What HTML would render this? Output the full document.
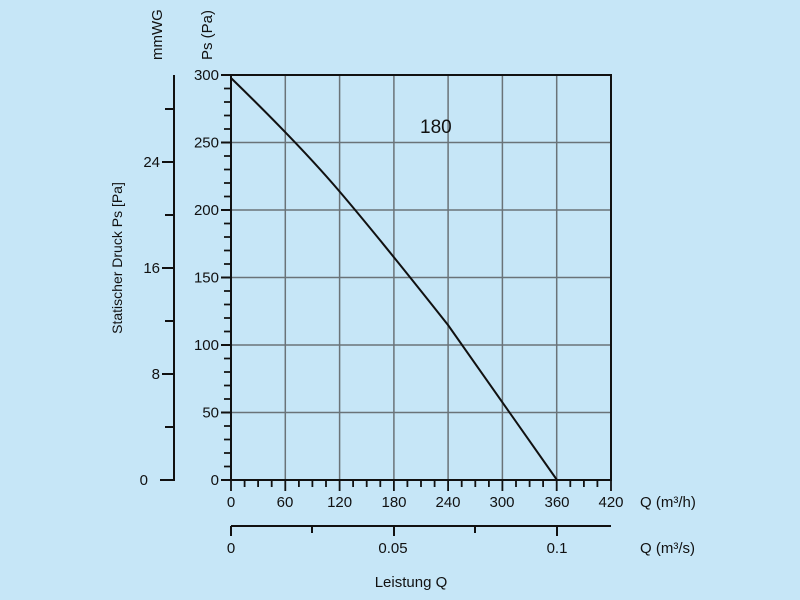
<!DOCTYPE html>
<html><head><style>
body{margin:0;background:#c6e6f7;}
svg{display:block;font-family:"Liberation Sans",sans-serif;}
</style></head><body>
<svg width="800" height="600" viewBox="0 0 800 600">
<rect width="800" height="600" fill="#c6e6f7"/>
<g stroke="#6a7378" stroke-width="1.5">
<line x1="285.3" y1="75" x2="285.3" y2="480"/><line x1="339.6" y1="75" x2="339.6" y2="480"/>
<line x1="393.9" y1="75" x2="393.9" y2="480"/><line x1="448.1" y1="75" x2="448.1" y2="480"/>
<line x1="502.4" y1="75" x2="502.4" y2="480"/><line x1="556.7" y1="75" x2="556.7" y2="480"/>
<line x1="231" y1="142.5" x2="611" y2="142.5"/><line x1="231" y1="210" x2="611" y2="210"/>
<line x1="231" y1="277.5" x2="611" y2="277.5"/><line x1="231" y1="345" x2="611" y2="345"/>
<line x1="231" y1="412.5" x2="611" y2="412.5"/>
</g>
<g stroke="#111" stroke-width="2" fill="none">
<rect x="231" y="75" width="380" height="405"/>
<path d="M231,78 Q300,145 340,192 T448,325 L557,480"/>
</g>
<g stroke="#111" stroke-width="2">
<line x1="221" y1="75" x2="231" y2="75"/><line x1="221" y1="142.5" x2="231" y2="142.5"/>
<line x1="221" y1="210" x2="231" y2="210"/><line x1="221" y1="277.5" x2="231" y2="277.5"/>
<line x1="221" y1="345" x2="231" y2="345"/><line x1="221" y1="412.5" x2="231" y2="412.5"/>
<line x1="221" y1="480" x2="231" y2="480"/>
<polyline points="160,480 174,480 174,75" fill="none"/>
<line x1="165" y1="109" x2="174" y2="109"/><line x1="162" y1="162" x2="174" y2="162"/>
<line x1="165" y1="215" x2="174" y2="215"/><line x1="162" y1="268" x2="174" y2="268"/>
<line x1="165" y1="321" x2="174" y2="321"/><line x1="162" y1="374" x2="174" y2="374"/>
<line x1="165" y1="427" x2="174" y2="427"/>
<line x1="231" y1="526" x2="611" y2="526"/>
<line x1="231" y1="526" x2="231" y2="536"/><line x1="312" y1="526" x2="312" y2="533"/>
<line x1="394" y1="526" x2="394" y2="536"/><line x1="475" y1="526" x2="475" y2="533"/>
<line x1="557" y1="526" x2="557" y2="536"/>
</g>
<g stroke="#111" stroke-width="1.8">
<path d="M224,88.5h7M224,102h7M224,115.5h7M224,129h7M224,156h7M224,169.5h7M224,183h7M224,196.5h7M224,223.5h7M224,237h7M224,250.5h7M224,264h7M224,291h7M224,304.5h7M224,318h7M224,331.5h7M224,358.5h7M224,372h7M224,385.5h7M224,399h7M224,426h7M224,439.5h7M224,453h7M224,466.5h7"/>
<path d="M231,480v11M244.6,480v7M258.1,480v7M271.7,480v7M285.3,480v11M298.9,480v7M312.4,480v7M326,480v7M339.6,480v11M353.1,480v7M366.7,480v7M380.3,480v7M393.9,480v11M407.4,480v7M421,480v7M434.6,480v7M448.1,480v11M461.7,480v7M475.3,480v7M488.9,480v7M502.4,480v11M516,480v7M529.6,480v7M543.1,480v7M556.7,480v11M570.3,480v7M583.9,480v7M597.4,480v7M611,480v11"/>
</g>
<g font-size="15" fill="#111">
<g text-anchor="end">
<text x="219" y="80">300</text><text x="219" y="147.5">250</text><text x="219" y="215">200</text>
<text x="219" y="282.5">150</text><text x="219" y="350">100</text><text x="219" y="417.5">50</text>
<text x="219" y="485">0</text>
<text x="160" y="167">24</text><text x="160" y="273">16</text><text x="160" y="379">8</text><text x="148" y="485">0</text>
</g>
<g text-anchor="middle">
<text x="231" y="507">0</text><text x="285" y="507">60</text><text x="339.6" y="507">120</text>
<text x="394" y="507">180</text><text x="448" y="507">240</text><text x="502" y="507">300</text>
<text x="557" y="507">360</text><text x="611" y="507">420</text>
<text x="231" y="553">0</text><text x="393" y="553">0.05</text><text x="557" y="553">0.1</text>
<text x="411" y="587">Leistung Q</text>
</g>
<text x="640" y="507">Q (m³/h)</text>
<text x="640" y="553">Q (m³/s)</text>
<text x="420" y="133" font-size="19">180</text>
<text transform="translate(162,60) rotate(-90)">mmWG</text>
<text transform="translate(212,60) rotate(-90)">Ps (Pa)</text>
<text transform="translate(122,258) rotate(-90)" text-anchor="middle" font-size="14">Statischer Druck Ps [Pa]</text>
</g>
</svg>
</body></html>
